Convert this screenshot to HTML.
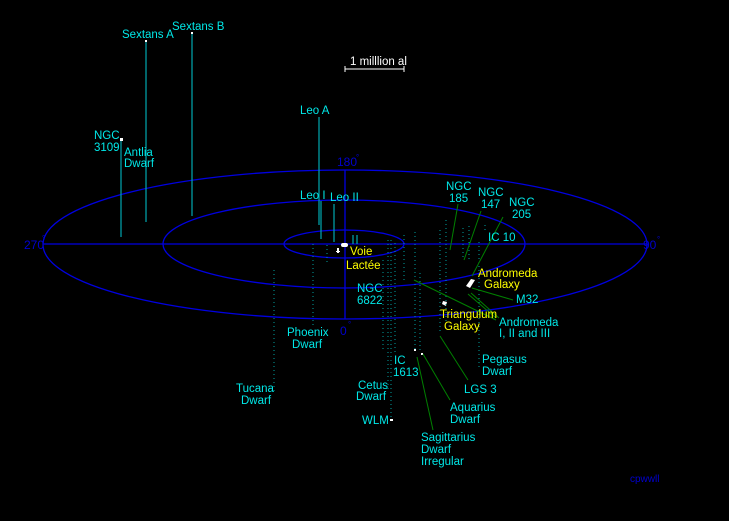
<!DOCTYPE html>
<html><head><style>
html,body{margin:0;padding:0;background:#000;}
svg{display:block;}
text{font-family:"Liberation Sans",sans-serif;font-size:11.5px;fill:#00e8e8;}
.y{fill:#ffff00;}
.b{fill:#0000d0;font-size:12px;}
.d{stroke:#00a0a0;stroke-width:1;stroke-dasharray:1 3;}
.g{stroke:#008000;stroke-width:1;}
.v{stroke:#00a8b0;stroke-width:1.2;}
</style></head><body>
<svg width="729" height="521" viewBox="0 0 729 521" xmlns="http://www.w3.org/2000/svg">
<rect width="729" height="521" fill="#000"/>
<g fill="none" stroke="#0000e0" stroke-width="1.3">
<ellipse cx="345" cy="244.5" rx="302" ry="74.5"/>
<ellipse cx="344" cy="244" rx="181" ry="44"/>
<ellipse cx="344" cy="244" rx="60" ry="14"/>
<line x1="43" y1="244" x2="647" y2="244"/>
<line x1="345" y1="170" x2="345" y2="319"/>
</g>
<text class="b" x="24" y="249">270</text><text class="b" x="42" y="241" style="font-size:8px">°</text>
<text class="b" x="337" y="166">180</text><text class="b" x="356" y="160" style="font-size:8px">°</text>
<text class="b" x="643" y="249">90</text><text class="b" x="657" y="242" style="font-size:8px">°</text>
<text class="b" x="340" y="335">0</text><text class="b" x="348" y="327" style="font-size:8px">°</text>
<g class="v">
<line x1="121" y1="140" x2="121" y2="237"/>
<line x1="146" y1="41" x2="146" y2="222"/>
<line x1="192" y1="33" x2="192" y2="216"/>
<line x1="319" y1="117" x2="319" y2="225"/>
<line x1="321" y1="201" x2="321" y2="239"/>
<line x1="334" y1="204" x2="334" y2="242"/>
<line x1="353" y1="235" x2="353" y2="244"/>
<line x1="357" y1="235" x2="357" y2="244"/>
</g>
<g fill="#fff">
<rect x="120" y="138" width="3" height="3"/><rect x="145" y="40" width="2" height="2"/><rect x="191" y="32" width="2" height="2"/>
<rect x="341" y="243" width="7" height="4" rx="2"/>
<rect x="337" y="248" width="2" height="5"/><rect x="336" y="251" width="4" height="1"/>
<polygon points="466,286 471,279 475,280 470,288"/>
<polygon points="443,301 447,302 446,306 442,304"/>
<rect x="390" y="419" width="3" height="2"/><rect x="421" y="353" width="2" height="2"/><rect x="414" y="349" width="2" height="2"/>
</g>
<g stroke="#fff" stroke-width="1"><line x1="345" y1="69" x2="404" y2="69"/><line x1="345" y1="66" x2="345" y2="72"/><line x1="404" y1="66" x2="404" y2="72"/></g>
<text x="350" y="65" style="fill:#fff">1 milllion al</text>
<g class="d">
<line x1="274" y1="270" x2="274" y2="394"/>
<line x1="313" y1="244" x2="313" y2="325"/>
<line x1="327" y1="245" x2="327" y2="262"/>
<line x1="383" y1="260" x2="383" y2="352"/>
<line x1="388" y1="240" x2="388" y2="390"/>
<line x1="391" y1="240" x2="391" y2="420"/>
<line x1="395" y1="243" x2="395" y2="352"/>
<line x1="404" y1="235" x2="404" y2="282"/>
<line x1="415" y1="232" x2="415" y2="352"/>
<line x1="420" y1="273" x2="420" y2="350"/>
<line x1="440" y1="230" x2="440" y2="333"/>
<line x1="446" y1="220" x2="446" y2="323"/>
<line x1="463" y1="228" x2="463" y2="260"/>
<line x1="469" y1="226" x2="469" y2="262"/>
<line x1="479" y1="242" x2="479" y2="370"/>
<line x1="485" y1="225" x2="485" y2="232"/>
</g>
<g class="g">
<line x1="458" y1="204" x2="450" y2="250"/>
<line x1="481" y1="211" x2="464" y2="260"/>
<line x1="503" y1="217" x2="472" y2="276"/>
<line x1="472" y1="288" x2="513" y2="300"/>
<line x1="468" y1="294" x2="496" y2="318"/>
<line x1="471" y1="293" x2="499" y2="318"/>
<line x1="414" y1="280" x2="496" y2="320"/>
<line x1="440" y1="336" x2="468" y2="380"/>
<line x1="423" y1="354" x2="450" y2="400"/>
<line x1="417" y1="357" x2="433" y2="430"/>
</g>
<text x="122" y="38">Sextans A</text>
<text x="172" y="30">Sextans B</text>
<text x="94" y="139">NGC</text><text x="94" y="151">3109</text>
<text x="124" y="156">Antlia</text><text x="124" y="167">Dwarf</text>
<text x="300" y="114">Leo A</text>
<text x="300" y="199">Leo I</text><text x="330" y="201">Leo II</text>
<text class="y" x="350" y="255">Voie</text><text class="y" x="346" y="269">Lactée</text>
<text x="357" y="292">NGC</text><text x="357" y="304">6822</text>
<text x="287" y="336">Phoenix</text><text x="292" y="348">Dwarf</text>
<text x="236" y="392">Tucana</text><text x="241" y="404">Dwarf</text>
<text x="358" y="389">Cetus</text><text x="356" y="400">Dwarf</text>
<text x="362" y="424">WLM</text>
<text x="394" y="364">IC</text><text x="393" y="376">1613</text>
<text x="446" y="190">NGC</text><text x="449" y="202">185</text>
<text x="478" y="196">NGC</text><text x="481" y="208">147</text>
<text x="509" y="206">NGC</text><text x="512" y="218">205</text>
<text x="488" y="241">IC 10</text>
<text class="y" x="478" y="277">Andromeda</text><text class="y" x="484" y="288">Galaxy</text>
<text x="516" y="303">M32</text>
<text x="499" y="326">Andromeda</text><text x="499" y="337">I, II and III</text>
<text class="y" x="440" y="318">Triangulum</text><text class="y" x="444" y="330">Galaxy</text>
<text x="482" y="363">Pegasus</text><text x="482" y="375">Dwarf</text>
<text x="464" y="393">LGS 3</text>
<text x="450" y="411">Aquarius</text><text x="450" y="423">Dwarf</text>
<text x="421" y="441">Sagittarius</text><text x="421" y="453">Dwarf</text><text x="421" y="465">Irregular</text>
<text class="b" x="630" y="482" style="font-size:10px">cpwwll</text>
</svg>
</body></html>
